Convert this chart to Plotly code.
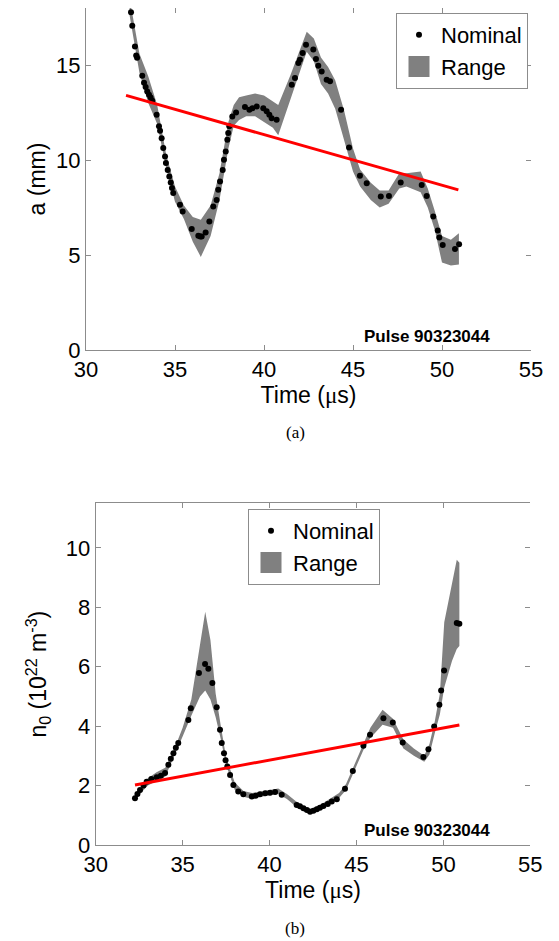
import plotly.graph_objects as go

# ---- panel (a): radius a (mm) ----
t_a = [32.53, 32.60, 32.75, 32.82, 32.87, 33.16, 33.26, 33.35, 33.44, 33.54, 33.63, 33.72,
       33.97, 34.10, 34.16, 34.25, 34.34, 34.44, 34.49, 34.59, 34.68, 34.76, 34.83, 34.90,
       35.28, 35.43, 35.94, 36.31, 36.42, 36.50, 36.72, 36.93, 37.15, 37.34, 37.43, 37.53,
       37.68, 37.75, 37.85, 37.94, 37.99, 38.05, 38.22, 38.43, 38.93, 39.18, 39.35, 39.59,
       39.96, 40.15, 40.30, 40.43, 40.71, 41.56, 41.74, 41.93, 42.02, 42.17, 42.36, 42.77,
       42.92, 43.05, 43.24, 43.52, 43.71, 44.33, 44.78, 45.39, 45.77, 46.56, 47.02, 47.68,
       48.86, 49.14, 49.51, 49.76, 49.85, 50.04, 50.73, 50.96]
a_nom = [17.77, 17.07, 15.98, 15.50, 15.38, 14.44, 14.07, 13.84, 13.61, 13.43, 13.29, 13.12,
         12.38, 11.77, 11.54, 11.15, 10.63, 10.18, 9.84, 9.48, 9.13, 8.81, 8.52, 8.26,
         7.64, 7.29, 6.37, 6.01, 5.98, 5.97, 6.18, 6.76, 7.55, 7.90, 8.43, 8.87,
         9.48, 10.01, 10.45, 11.06, 11.42, 11.77, 12.29, 12.50, 12.79, 12.64, 12.73, 12.82,
         12.73, 12.56, 12.38, 12.20, 12.12, 13.96, 14.31, 15.10, 15.28, 15.63, 16.07, 15.81,
         15.32, 14.96, 14.66, 14.22, 14.14, 12.64, 10.66, 9.17, 8.78, 8.08, 8.11, 8.81,
         8.69, 8.11, 7.02, 6.29, 5.92, 5.53, 5.31, 5.57]

band_t_a = [32.45, 33.0, 33.5, 34.0, 34.5, 35.0, 35.5, 36.0, 36.45, 37.0, 37.5, 38.0, 38.3,
            38.6, 39.0, 39.5, 40.0, 40.5, 40.8, 41.5, 42.0, 42.4, 42.8, 43.2, 43.6, 44.0,
            44.5, 45.0, 45.4, 46.0, 46.5, 47.0, 47.6, 48.0, 48.8, 49.2, 49.6, 50.0, 50.5, 50.95]
band_lo_a = [17.6, 14.6, 13.0, 11.9, 9.6, 7.8, 6.9, 5.7, 4.9, 6.0, 7.9, 10.6, 11.8,
             12.1, 12.3, 12.3, 12.0, 11.7, 11.3, 13.2, 14.6, 15.7, 15.2, 14.0, 13.5, 12.7,
             11.0, 9.4, 8.6, 7.9, 7.5, 7.7, 8.5, 8.6, 8.3, 7.5, 6.3, 4.6, 4.45, 4.5]
band_hi_a = [18.5, 15.6, 14.4, 12.9, 10.3, 8.6, 7.6, 7.0, 6.85, 7.6, 9.3, 12.0, 12.9,
             13.3, 13.4, 13.5, 13.4, 13.1, 12.9, 14.5, 15.8, 16.75, 16.4, 15.4, 14.9, 14.2,
             12.6, 10.6, 9.5, 8.8, 8.4, 8.4, 9.3, 9.3, 9.4, 8.5, 7.3, 6.0, 5.8, 6.15]

fit_t_a = [32.25, 50.92]
fit_a = [13.4, 8.43]

# ---- panel (b): density n0 ----
t_n = [32.26, 32.40, 32.55, 32.75, 32.93, 33.20, 33.51, 33.75, 33.99, 34.18, 34.32, 34.47,
       34.61, 34.75, 35.33, 35.47, 35.94, 36.29, 36.48, 36.71, 36.96, 37.15, 37.25, 37.38,
       37.47, 37.57, 37.73, 37.92, 38.20, 38.49, 38.98, 39.20, 39.45, 39.75, 40.03, 40.32,
       40.70, 41.56, 41.75, 41.95, 42.15, 42.33, 42.52, 42.72, 42.90, 43.10, 43.35, 43.58,
       43.87, 44.34, 44.79, 45.40, 45.78, 46.55, 47.09, 47.66, 48.85, 49.14, 49.47, 49.77,
       49.87, 50.04, 50.77, 50.92]
n_nom = [1.57, 1.72, 1.85, 2.00, 2.13, 2.22, 2.28, 2.33, 2.42, 2.70, 2.90, 3.09,
         3.27, 3.43, 4.21, 4.60, 5.79, 6.09, 5.93, 5.45, 4.64, 3.88, 3.43, 3.09,
         2.85, 2.64, 2.36, 2.02, 1.80, 1.71, 1.63, 1.66, 1.71, 1.74, 1.76, 1.78,
         1.69, 1.35, 1.30, 1.24, 1.18, 1.12, 1.15, 1.20, 1.25, 1.31, 1.38, 1.46,
         1.54, 1.89, 2.49, 3.34, 3.71, 4.27, 4.12, 3.45, 2.96, 3.22, 3.99, 4.72,
         5.20, 5.87, 7.47, 7.45]

band_t_n = [32.26, 32.6, 33.0, 33.5, 34.0, 34.5, 35.0, 35.5, 35.8, 36.0, 36.3, 36.6, 36.9,
            37.2, 37.5, 38.0, 38.5, 39.0, 39.5, 40.0, 40.5, 41.0, 41.5, 42.0, 42.4, 43.0,
            43.5, 44.0, 44.4, 44.8, 45.4, 45.8, 46.5, 47.1, 47.7, 48.3, 48.9, 49.2, 49.5,
            49.8, 50.05, 50.5, 50.77, 50.92]
band_lo_n = [1.5, 1.75, 2.0, 2.15, 2.3, 2.95, 3.65, 4.35, 4.75, 5.0, 5.2, 4.9, 4.3,
             3.55, 2.7, 1.85, 1.62, 1.55, 1.62, 1.68, 1.72, 1.55, 1.3, 1.12, 1.06, 1.22,
             1.4, 1.58, 1.85, 2.38, 3.2, 3.6, 4.05, 3.95, 3.25, 3.0, 2.8, 3.05, 3.75,
             4.4, 5.3, 6.2, 6.6, 6.7]
band_hi_n = [1.65, 1.9, 2.25, 2.45, 2.6, 3.2, 3.95, 4.9, 6.0, 6.8, 7.85, 6.9, 5.1,
             4.0, 2.95, 2.1, 1.82, 1.75, 1.8, 1.86, 1.9, 1.72, 1.48, 1.28, 1.22, 1.38,
             1.56, 1.75, 2.05, 2.6, 3.45, 3.95, 4.55, 4.25, 3.55, 3.25, 3.0, 3.4, 4.15,
             5.1, 7.5, 8.8, 9.6, 9.5]

fit_t_n = [32.26, 50.92]
fit_n = [2.02, 4.04]

pulse_label = "Pulse 90323044"

FONT = "Arial, Liberation Sans, sans-serif"
AXCOL = "#8c8c8c"
BAND = "#808080"

# the page body has an 8px margin, so the figure is drawn 8px in from the corner
W, H, OFF = 551, 933, 8


def px(x):
    return (x - OFF) / W


def py(y):
    return 1 - (y - OFF) / H


fig = go.Figure()


def add_panel(xa, ya, legend, t, nom, bt, blo, bhi, ft, fv):
    # shaded range as one closed polygon
    fig.add_trace(go.Scatter(
        x=bt + bt[::-1], y=bhi + blo[::-1],
        fill="toself", fillcolor=BAND, line=dict(width=0, color=BAND),
        mode="lines", showlegend=False,
        xaxis=xa, yaxis=ya, hoverinfo="skip"))
    fig.add_trace(go.Scatter(
        x=t, y=nom, mode="markers", name="Nominal",
        marker=dict(color="black", size=6), legend=legend, legendrank=1,
        xaxis=xa, yaxis=ya))
    # legend swatch for the range band
    fig.add_trace(go.Scatter(
        x=[None], y=[None], mode="markers", name="Range",
        marker=dict(symbol="square", color=BAND, size=16, line=dict(color=BAND, width=5)),
        legend=legend, legendrank=2, xaxis=xa, yaxis=ya))
    fig.add_trace(go.Scatter(
        x=ft, y=fv, mode="lines", line=dict(color="red", width=3),
        showlegend=False, xaxis=xa, yaxis=ya))


add_panel("x", "y", "legend", t_a, a_nom, band_t_a, band_lo_a, band_hi_a, fit_t_a, fit_a)
add_panel("x2", "y2", "legend2", t_n, n_nom, band_t_n, band_lo_n, band_hi_n, fit_t_n, fit_n)

# empty traces so the right-hand tick-only axes get drawn
fig.add_trace(go.Scatter(x=[], y=[], xaxis="x", yaxis="y3", showlegend=False))
fig.add_trace(go.Scatter(x=[], y=[], xaxis="x2", yaxis="y4", showlegend=False))

mu = '<span style="font-family:Liberation Serif, Times New Roman, serif">μ</span>'

xcommon = dict(range=[30, 55], dtick=5, ticks="inside", ticklen=5, tickcolor=AXCOL,
               showline=True, linecolor=AXCOL, linewidth=1, mirror="ticks",
               showgrid=False, zeroline=False, automargin=False,
               tickfont=dict(size=22, color="black"),
               title=dict(text="Time (" + mu + "s)", font=dict(size=23), standoff=0))
ycommon = dict(ticks="inside", ticklen=5, tickcolor=AXCOL, showline=True,
               linecolor=AXCOL, linewidth=1, showgrid=False, zeroline=False,
               automargin=False, tickfont=dict(size=22, color="black"))
yright = dict(ticks="inside", ticklen=5, tickcolor=AXCOL, showline=False,
              showgrid=False, zeroline=False, showticklabels=False, side="right",
              automargin=False)
legcommon = dict(xanchor="left", yanchor="top", bordercolor=AXCOL, borderwidth=1,
                 bgcolor="white", font=dict(size=22), tracegroupgap=0, itemwidth=34)

fig.update_layout(
    width=W, height=H,
    margin=dict(l=0, r=0, t=0, b=0),
    paper_bgcolor="white", plot_bgcolor="white",
    font=dict(family=FONT, color="black"),
    showlegend=True,
    xaxis=dict(xcommon, domain=[px(86), px(531)], anchor="y"),
    yaxis=dict(ycommon, domain=[py(350), py(8)], anchor="x", range=[0, 18], dtick=5,
               title=dict(text="a (mm)", font=dict(size=23), standoff=4)),
    yaxis3=dict(yright, overlaying="y", anchor="x", range=[0, 18], dtick=5),
    xaxis2=dict(xcommon, domain=[px(95.7), px(530.3)], anchor="y2"),
    yaxis2=dict(ycommon, domain=[py(845), py(503.3)], anchor="x2", range=[0, 11.5], dtick=2,
                title=dict(text="n<sub>0</sub> (10<sup>22</sup> m<sup>-3</sup>)",
                           font=dict(size=23), standoff=12)),
    yaxis4=dict(yright, overlaying="y2", anchor="x2", range=[0, 11.5], dtick=2),
    legend=dict(legcommon, x=px(396), y=py(13)),
    legend2=dict(legcommon, x=px(248), y=py(509)),
)

# pulse labels inside each panel, sub-figure captions below
for ypos in (336, 830):
    fig.add_annotation(text="<b>" + pulse_label + "</b>", xref="paper", yref="paper",
                       x=px(427), y=py(ypos), xanchor="center", yanchor="middle",
                       showarrow=False, font=dict(size=17, family=FONT))
for lbl, ypos in (("(a)", 432), ("(b)", 928)):
    fig.add_annotation(text=lbl, xref="paper", yref="paper", x=px(295), y=py(ypos),
                       xanchor="center", yanchor="middle", showarrow=False,
                       font=dict(size=17, family="Liberation Serif, Times New Roman, serif"))

fig.write_html("out.html")
